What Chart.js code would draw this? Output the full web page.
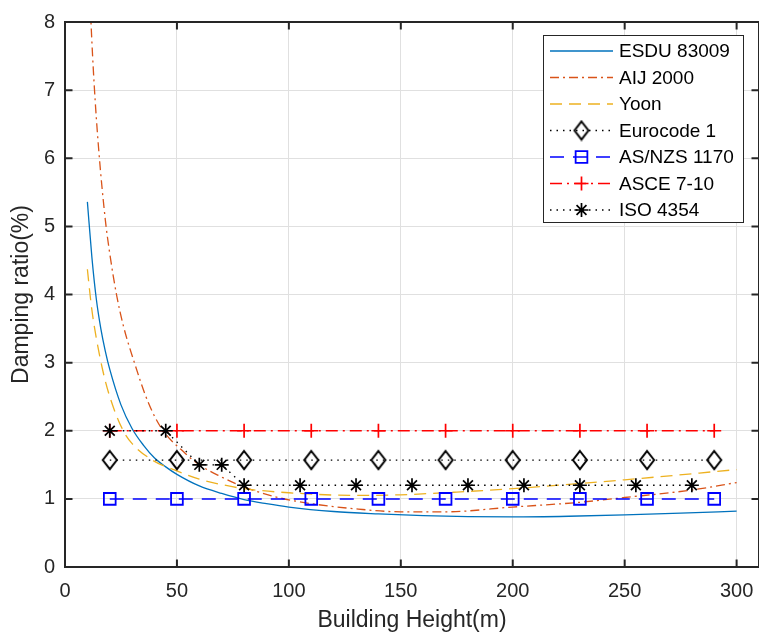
<!DOCTYPE html>
<html>
<head>
<meta charset="utf-8">
<title>Damping ratio vs building height</title>
<script src="https://cdn.jsdelivr.net/npm/chart.js@4.4.0/dist/chart.umd.min.js"></script>
<style>
  html, body { margin: 0; padding: 0; background: #fff; overflow: hidden; }
  #wrap { width: 770px; height: 635px; }
</style>
</head>
<body>
<div id="wrap"><canvas id="chart" width="770" height="635"></canvas></div>
<script>
// axis ticks
const xTicks = [0, 50, 100, 150, 200, 250, 300];
const yTicks = [0, 1, 2, 3, 4, 5, 6, 7, 8];

// ESDU 83009
const esduH = [10, 12, 14, 16, 18, 20, 25, 30, 35, 40, 45, 50, 60, 70, 80, 90, 100, 120, 140, 160, 180, 200, 225, 250, 275, 300];
const esduD = [5.36, 4.55, 3.93, 3.5, 3.17, 2.9, 2.38, 2.03, 1.79, 1.6, 1.47, 1.36, 1.19, 1.08, 0.99, 0.93, 0.88, 0.815, 0.78, 0.755, 0.74, 0.735, 0.745, 0.765, 0.79, 0.82];

// AIJ 2000
const aijH = [10, 11.6, 13, 15, 18, 20, 23, 26, 31, 37, 43, 54, 60, 70, 78, 94, 110, 131, 150, 170, 200, 230, 250, 280, 300];
const aijD = [9.3, 8.0, 7.1, 6.15, 5.1, 4.6, 4.0, 3.55, 3.0, 2.43, 2.04, 1.66, 1.5, 1.32, 1.2, 1.03, 0.93, 0.85, 0.81, 0.81, 0.88, 0.95, 1.02, 1.13, 1.24];

// Yoon
const yoonH = [10, 11.6, 13, 16.7, 20, 26, 30, 39, 50, 60, 70, 80, 100, 130, 150, 175, 200, 250, 300];
const yoonD = [4.37, 3.88, 3.55, 2.91, 2.5, 2.0, 1.81, 1.57, 1.41, 1.29, 1.21, 1.15, 1.09, 1.05, 1.06, 1.1, 1.15, 1.28, 1.43];

// code values, constant with height
const codeH = [20, 50, 80, 110, 140, 170, 200, 230, 260, 290];
const eurocodeD = [1.57, 1.57, 1.57, 1.57, 1.57, 1.57, 1.57, 1.57, 1.57, 1.57];
const asnzsD = [1, 1, 1, 1, 1, 1, 1, 1, 1, 1];
const asceD = [2, 2, 2, 2, 2, 2, 2, 2, 2, 2];

// ISO 4354
const isoH = [20, 45, 60, 70, 80, 105, 130, 155, 180, 205, 230, 255, 280];
const isoD = [2, 2, 1.5, 1.5, 1.2, 1.2, 1.2, 1.2, 1.2, 1.2, 1.2, 1.2, 1.2];

const seriesNames = ['ESDU 83009', 'AIJ 2000', 'Yoon', 'Eurocode 1', 'AS/NZS 1170', 'ASCE 7-10', 'ISO 4354'];

const FONT = "'Liberation Sans', Arial, Helvetica, sans-serif";
const AXIS_COLOR = '#262626';

function toPoints(xs, ys) {
  return xs.map((x, i) => ({ x: x, y: ys[i] }));
}

// matlab style diamond, a bit taller than wide
function makeDiamond(w, h, lw) {
  const c = document.createElement('canvas');
  c.width = w + 2 * lw;
  c.height = h + 2 * lw;
  const g = c.getContext('2d');
  g.strokeStyle = '#000';
  g.lineWidth = lw;
  g.lineJoin = 'miter';
  g.beginPath();
  g.moveTo(c.width / 2, lw);
  g.lineTo(c.width - lw, c.height / 2);
  g.lineTo(c.width / 2, c.height - lw);
  g.lineTo(lw, c.height / 2);
  g.closePath();
  g.stroke();
  return c;
}
const diamond = makeDiamond(14, 18, 2);

const datasets = [
  {
    data: toPoints(esduH, esduD),
    borderColor: '#0072BD', borderWidth: 1.3, pointRadius: 0,
    cubicInterpolationMode: 'monotone',
  },
  {
    data: toPoints(aijH, aijD),
    borderColor: '#D95319', borderWidth: 1.3, borderDash: [9, 4, 2, 4], pointRadius: 0,
    cubicInterpolationMode: 'monotone',
  },
  {
    data: toPoints(yoonH, yoonD),
    borderColor: '#EDB120', borderWidth: 1.3, borderDash: [12, 7], pointRadius: 0,
    cubicInterpolationMode: 'monotone',
  },
  {
    data: toPoints(codeH, eurocodeD),
    borderColor: '#000', borderWidth: 1.3, borderDash: [1.5, 5],
    pointStyle: diamond, pointRadius: 9, pointBorderWidth: 2,
    pointBackgroundColor: 'transparent', pointBorderColor: '#000',
  },
  {
    data: toPoints(codeH, asnzsD),
    borderColor: '#0000FF', borderWidth: 1.5, borderDash: [14, 9],
    pointStyle: 'rect', pointRadius: 8.3, pointBorderWidth: 1.8,
    pointBackgroundColor: 'transparent', pointBorderColor: '#0000FF',
  },
  {
    data: toPoints(codeH, asceD),
    borderColor: '#FF0000', borderWidth: 1.5, borderDash: [12, 5, 2, 5],
    pointStyle: 'cross', pointRadius: 7, pointBorderWidth: 1.7,
    pointBackgroundColor: 'transparent', pointBorderColor: '#FF0000',
  },
  {
    data: toPoints(isoH, isoD),
    borderColor: '#000', borderWidth: 1.3, borderDash: [1.5, 5],
    pointStyle: 'star', pointRadius: 7, pointBorderWidth: 1.7,
    pointBackgroundColor: 'transparent', pointBorderColor: '#000',
  },
];

datasets.forEach((ds, i) => {
  ds.label = seriesNames[i];
  ds.fill = false;
  ds.tension = ds.tension || 0;
  ds.order = datasets.length - i; // later series on top, like matlab
});

// box round the axes with inward ticks on all four sides
const axesBox = {
  id: 'axesBox',
  afterDatasetsDraw(chart) {
    const ctx = chart.ctx;
    const { left, right, top, bottom } = chart.chartArea;
    const xs = chart.scales.x;
    const ys = chart.scales.y;
    const len = 7.5;
    ctx.save();
    ctx.strokeStyle = AXIS_COLOR;
    ctx.lineWidth = 2;
    ctx.strokeRect(left, top, right - left, bottom - top);
    ctx.beginPath();
    xs.ticks.forEach((t) => {
      const px = xs.getPixelForValue(t.value);
      ctx.moveTo(px, bottom); ctx.lineTo(px, bottom - len);
      ctx.moveTo(px, top); ctx.lineTo(px, top + len);
    });
    ys.ticks.forEach((t) => {
      const py = ys.getPixelForValue(t.value);
      ctx.moveTo(left, py); ctx.lineTo(left + len, py);
      ctx.moveTo(right, py); ctx.lineTo(right - len, py);
    });
    ctx.stroke();
    ctx.restore();
  },
};

// legend box in the top right, line sample with marker in the middle
const legendBox = {
  id: 'legendBox',
  afterDraw(chart) {
    const ctx = chart.ctx;
    const bx = 543.5, by = 35.5, bw = 200, bh = 187;
    const rowTop = 51, rowStep = 26.5;
    const x0 = 550, x1 = 613, tx = 619;
    ctx.save();
    ctx.fillStyle = '#fff';
    ctx.fillRect(bx, by, bw, bh);
    ctx.strokeStyle = AXIS_COLOR;
    ctx.lineWidth = 1;
    ctx.strokeRect(bx, by, bw, bh);

    chart.data.datasets.forEach((ds, i) => {
      const y = rowTop + i * rowStep;
      ctx.save();
      ctx.strokeStyle = ds.borderColor;
      ctx.lineWidth = ds.borderWidth;
      ctx.setLineDash(ds.borderDash || []);
      ctx.beginPath();
      ctx.moveTo(x0, y);
      ctx.lineTo(x1, y);
      ctx.stroke();
      ctx.restore();

      if (ds.pointRadius > 0) {
        ctx.save();
        ctx.strokeStyle = ds.pointBorderColor;
        ctx.fillStyle = 'rgba(0,0,0,0)';
        ctx.lineWidth = ds.pointBorderWidth;
        Chart.helpers.drawPoint(ctx, {
          pointStyle: ds.pointStyle,
          radius: ds.pointRadius,
          rotation: 0,
          borderWidth: ds.pointBorderWidth,
        }, (x0 + x1) / 2, y);
        ctx.restore();
      }

      ctx.fillStyle = '#000';
      ctx.font = '19px ' + FONT;
      ctx.textBaseline = 'middle';
      ctx.textAlign = 'left';
      ctx.fillText(ds.label, tx, y + 1);
    });
    ctx.restore();
  },
};

const ctx = document.querySelector('#chart');
new Chart(ctx, {
  type: 'line',
  data: { datasets: datasets },
  options: {
    responsive: false,
    animation: false,
    devicePixelRatio: 1,
    layout: { padding: { top: 17, right: 8, left: 0, bottom: 0 } },
    plugins: {
      legend: { display: false },
      tooltip: { enabled: false },
    },
    scales: {
      x: {
        type: 'linear',
        min: 0,
        max: 310,
        afterBuildTicks: (scale) => {
          scale.ticks = xTicks.map((v) => ({ value: v }));
        },
        afterFit: (scale) => {
          scale.height = 68;
        },
        grid: { color: '#e0e0e0', lineWidth: 1, drawTicks: false },
        border: { display: false },
        ticks: {
          padding: 12,
          maxRotation: 0,
          color: AXIS_COLOR,
          font: { family: FONT, size: 20 },
        },
        title: {
          display: true,
          text: 'Building Height(m)',
          color: AXIS_COLOR,
          font: { family: FONT, size: 23 },
          padding: { top: 0, bottom: 1 },
        },
      },
      y: {
        type: 'linear',
        min: 0,
        max: 8,
        afterBuildTicks: (scale) => {
          scale.ticks = yTicks.map((v) => ({ value: v }));
        },
        afterFit: (scale) => {
          scale.width = 65;
        },
        grid: { color: '#e0e0e0', lineWidth: 1, drawTicks: false },
        border: { display: false },
        ticks: {
          padding: 10,
          color: AXIS_COLOR,
          font: { family: FONT, size: 20 },
        },
        title: {
          display: true,
          text: 'Damping ratio(%)',
          color: AXIS_COLOR,
          font: { family: FONT, size: 23 },
          padding: { top: 8, bottom: 0 },
        },
      },
    },
  },
  plugins: [axesBox, legendBox],
});
</script>
</body>
</html>
